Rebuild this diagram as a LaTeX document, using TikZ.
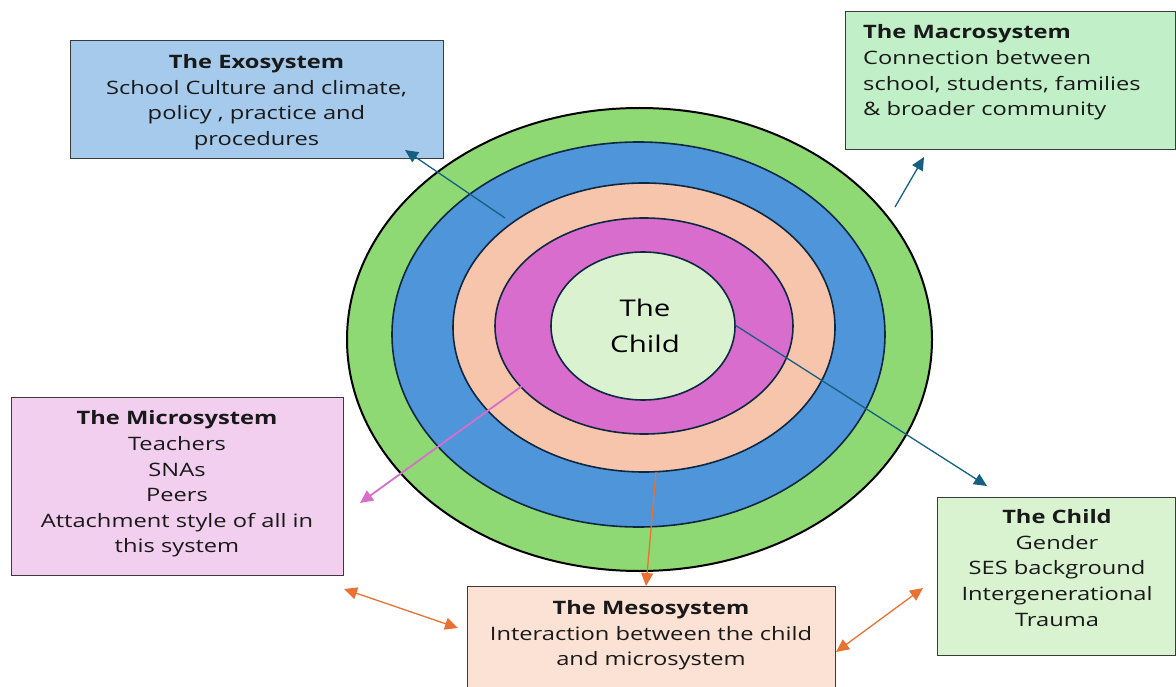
\documentclass[tikz,border=0pt]{standalone}
\usepackage{fontspec}
\setmainfont{Open Sans}[FakeStretch=1.28]
\usetikzlibrary{shapes.geometric,arrows.meta}
\definecolor{cgreen}{HTML}{8ED973}
\definecolor{cblue}{HTML}{4E95D9}
\definecolor{cpeach}{HTML}{F6C5AC}
\definecolor{cmag}{HTML}{D86DCD}
\definecolor{cchild}{HTML}{DAF2D0}
\definecolor{ringline}{HTML}{0E2841}
\definecolor{boxline}{HTML}{3A3A3A}
\definecolor{exofill}{HTML}{A6CAEC}
\definecolor{macrofill}{HTML}{C1F0C8}
\definecolor{microfill}{HTML}{F2CEEF}
\definecolor{mesofill}{HTML}{FBE2D5}
\definecolor{childfill}{HTML}{D9F2D0}
\definecolor{tealarrow}{HTML}{156082}
\definecolor{orangearrow}{HTML}{E97132}
\begin{document}
\begin{tikzpicture}[x=1pt,y=-1pt,
  ring/.style={ellipse, draw=ringline, line width=1.6pt, inner sep=0pt},
  infobox/.style={rectangle, draw=boxline, line width=1.2pt, inner sep=0pt, anchor=north west},
  boxtext/.style={inner sep=0pt, font=\fontsize{18.5}{25.6}\selectfont, text=black!90},
  tealarr/.style={draw=tealarrow, line width=1.3pt, -{Triangle[length=13pt,width=12pt]}},
  pinkarr/.style={draw=cmag, line width=1.8pt, -{Triangle[length=13pt,width=12pt]}},
  orangearr/.style={draw=orangearrow, line width=1.3pt, -{Triangle[length=13pt,width=12pt]}},
  orangedbl/.style={draw=orangearrow, line width=1.3pt, {Triangle[length=13pt,width=12pt]}-{Triangle[length=13pt,width=12pt]}}
]
\useasboundingbox (0,0) rectangle (1176,687);

% rings
\node[ring, draw=black, line width=2pt, fill=cgreen, minimum width=585pt, minimum height=463pt] (outer) at (639.5,339.5) {};
\node[ring, fill=cblue, minimum width=493pt, minimum height=385pt] (exoring) at (638.5,334.5) {};
\node[ring, fill=cpeach, minimum width=382pt, minimum height=289pt] (mesoring) at (644,327.5) {};
\node[ring, fill=cmag, minimum width=298pt, minimum height=216pt] (microring) at (644,326) {};
\node[ring, fill=cchild, minimum width=184pt, minimum height=148pt] (childring) at (643,326) {};
\node[inner sep=0pt, align=center, font=\fontsize{23}{36}\selectfont] (childlabel) at (645,326) {The\\Child};

% boxes
\node[infobox, fill=exofill, minimum width=373pt, minimum height=118pt] (exobox) at (70,40) {};
\node[infobox, fill=macrofill, minimum width=330pt, minimum height=138pt] (macrobox) at (845,11) {};
\node[infobox, fill=microfill, minimum width=332pt, minimum height=178pt] (microbox) at (11,397) {};
\node[infobox, fill=mesofill, minimum width=368pt, minimum height=140pt] (mesobox) at (467,586) {};
\node[infobox, fill=childfill, minimum width=238pt, minimum height=158pt] (childbox) at (937,497) {};

% texts
\node[boxtext, align=center] (exotext) at (256.5,102) {\textbf{The Exosystem}\\School Culture and climate,\\policy , practice and\\procedures};
\node[boxtext, align=left, anchor=west] (macrotext) at (863,72.5) {\textbf{The Macrosystem}\\Connection between\\school, students, families\\\& broader community};
\node[boxtext, align=center] (microtext) at (177,484) {\textbf{The Microsystem}\\Teachers\\SNAs\\Peers\\Attachment style of all in\\this system};
\node[boxtext, align=center] (mesotext) at (651,635.5) {\textbf{The Mesosystem}\\Interaction between the child\\and microsystem};
\node[boxtext, align=center] (childtext) at (1057,568) {\textbf{The Child}\\Gender\\SES background\\Intergenerational\\Trauma};

% arrow end points
\coordinate (exoA) at (505,218);
\coordinate (exoB) at (405,150);
\coordinate (macA) at (895,207);
\coordinate (macB) at (924,157);
\coordinate (micA) at (522,386);
\coordinate (micB) at (360,503);
\coordinate (mesA) at (656,472);
\coordinate (mesB) at (646,586);
\coordinate (chA) at (735,325);
\coordinate (chB) at (987,486);
\coordinate (d1A) at (344,589);
\coordinate (d1B) at (458,628);
\coordinate (d2A) at (836,652);
\coordinate (d2B) at (923,588);

\draw[tealarr] (exoA) -- (exoB);
\draw[tealarr] (macA) -- (macB);
\draw[pinkarr] (micA) -- (micB);
\draw[orangearr] (mesA) -- (mesB);
\draw[tealarr] (chA) -- (chB);
\draw[orangedbl] (d1A) -- (d1B);
\draw[orangedbl] (d2A) -- (d2B);
\end{tikzpicture}
\end{document}
